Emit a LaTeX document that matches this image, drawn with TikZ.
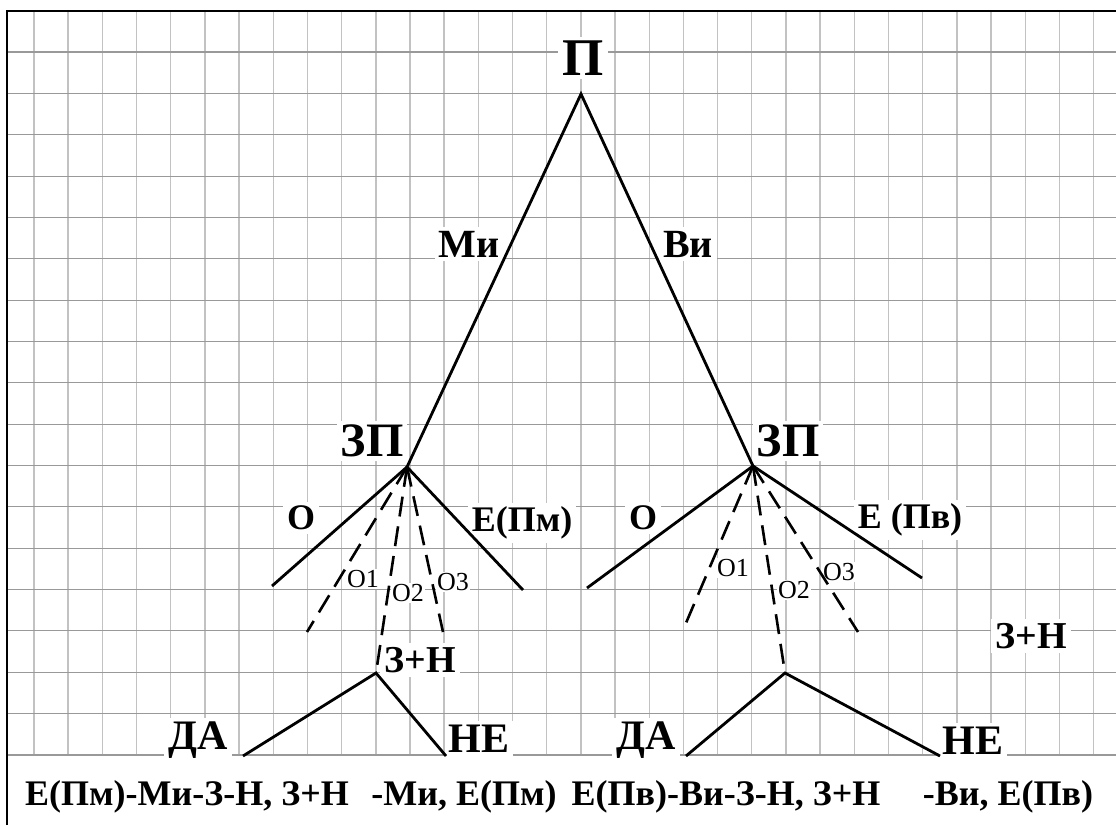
\documentclass[tikz,border=0pt]{standalone}
\usepackage{fontspec}
\setmainfont{Liberation Serif}
\begin{document}
\begin{tikzpicture}[x=1pt,y=-1pt,
  gridh/.style={black!40, line width=1.1pt},
  gridv/.style={black!24, line width=1.4pt},
  frame/.style={black, line width=2.4pt, line join=miter},
  branch/.style={black, line width=2.8pt},
  dbranch/.style={black, line width=2.6pt, dash pattern=on 20pt off 10pt},
  lbl/.style={fill=white, inner sep=4pt, font=\bfseries\fontsize{#1}{#1}\selectfont},
  lbl/.default=36,
  olab/.style={fill=white, inner sep=1pt, font=\fontsize{26}{26}\selectfont},
  btext/.style={fill=white, inner sep=2pt, font=\bfseries\fontsize{36}{36}\selectfont},
]
\useasboundingbox (0,0) rectangle (1116,825);
\fill[white] (0,0) rectangle (1116,825);
% grid
\foreach \k in {0,...,31} \draw[gridv] ({34+34.18*\k},11) -- ({34+34.18*\k},755);
\foreach \k in {0,...,17} \draw[gridh] (7,{52+41.35*\k}) -- (1116,{52+41.35*\k});
\draw[frame] (7,825) -- (7,11) -- (1116,11);

% labels
\node[lbl=53] (tP) at (583,58) {П};
\node[lbl=40] (tMi) at (469,244) {Ми};
\node[lbl=40] (tVi) at (688,244) {Ви};
\node[lbl=48] (tZPl) at (372,441) {ЗП};
\node[lbl=48] (tZPr) at (788,441) {ЗП};
\node[lbl=36] (tOl) at (301,518) {О};
\node[lbl=36] (tEl) at (522,523) {Е(Пм)};
\node[lbl=36] (tOr) at (643,518) {О};
\node[lbl=36] (tEr) at (910,520) {Е (Пв)};
\node[olab] (o1l) at (363,579) {О1};
\node[olab] (o2l) at (408,593) {О2};
\node[olab] (o3l) at (453,582) {О3};
\node[olab] (o1r) at (733,568) {О1};
\node[olab] (o2r) at (794,590) {О2};
\node[olab] (o3r) at (839,572) {О3};
\node[lbl=38] (tZNl) at (420,660) {З+Н};
\node[lbl=38] (tZNr) at (1031,636) {З+Н};
\node[lbl=42] (tDAl) at (198,740) {ДА};
\node[lbl=42] (tNEl) at (479,739) {НЕ};
\node[lbl=42] (tDAr) at (646,740) {ДА};
\node[lbl=42] (tNEr) at (973,741) {НЕ};
\node[btext] (b1) at (187,797) {Е(Пм)-Ми-З-Н, З+Н};
\node[btext] (b2) at (464,797) {-Ми, Е(Пм)};
\node[btext] (b3) at (726,797) {Е(Пв)-Ви-З-Н, З+Н};
\node[btext] (b4) at (1008,797) {-Ви, Е(Пв)};

% tree points
\coordinate (P) at (581,94);
\coordinate (ZL) at (407,467);
\coordinate (ZR) at (753,466);
\coordinate (ZLa) at (272,586);
\coordinate (ZLb) at (523,590);
\coordinate (ZLd1) at (307,632);
\coordinate (ZLd3) at (443,632);
\coordinate (FL) at (376,673);
\coordinate (FLa) at (243,756);
\coordinate (FLb) at (446,756);
\coordinate (ZRa) at (587,588);
\coordinate (ZRb) at (922,578);
\coordinate (ZRd1) at (683,630);
\coordinate (ZRd3) at (858,632);
\coordinate (FR) at (785,673);
\coordinate (FRa) at (686,756);
\coordinate (FRb) at (940,756);

\draw[branch] (ZL) -- (P) -- (ZR);
\draw[branch] (ZLa) -- (ZL) -- (ZLb);
\draw[branch] (ZRa) -- (ZR) -- (ZRb);
\draw[dbranch] (ZL) -- (ZLd1);
\draw[dbranch] (ZL) -- (FL);
\draw[dbranch] (ZL) -- (ZLd3);
\draw[dbranch] (ZR) -- (ZRd1);
\draw[dbranch] (ZR) -- (FR);
\draw[dbranch] (ZR) -- (ZRd3);
\draw[branch] (FLa) -- (FL) -- (FLb);
\draw[branch] (FRa) -- (FR) -- (FRb);
\end{tikzpicture}
\end{document}
